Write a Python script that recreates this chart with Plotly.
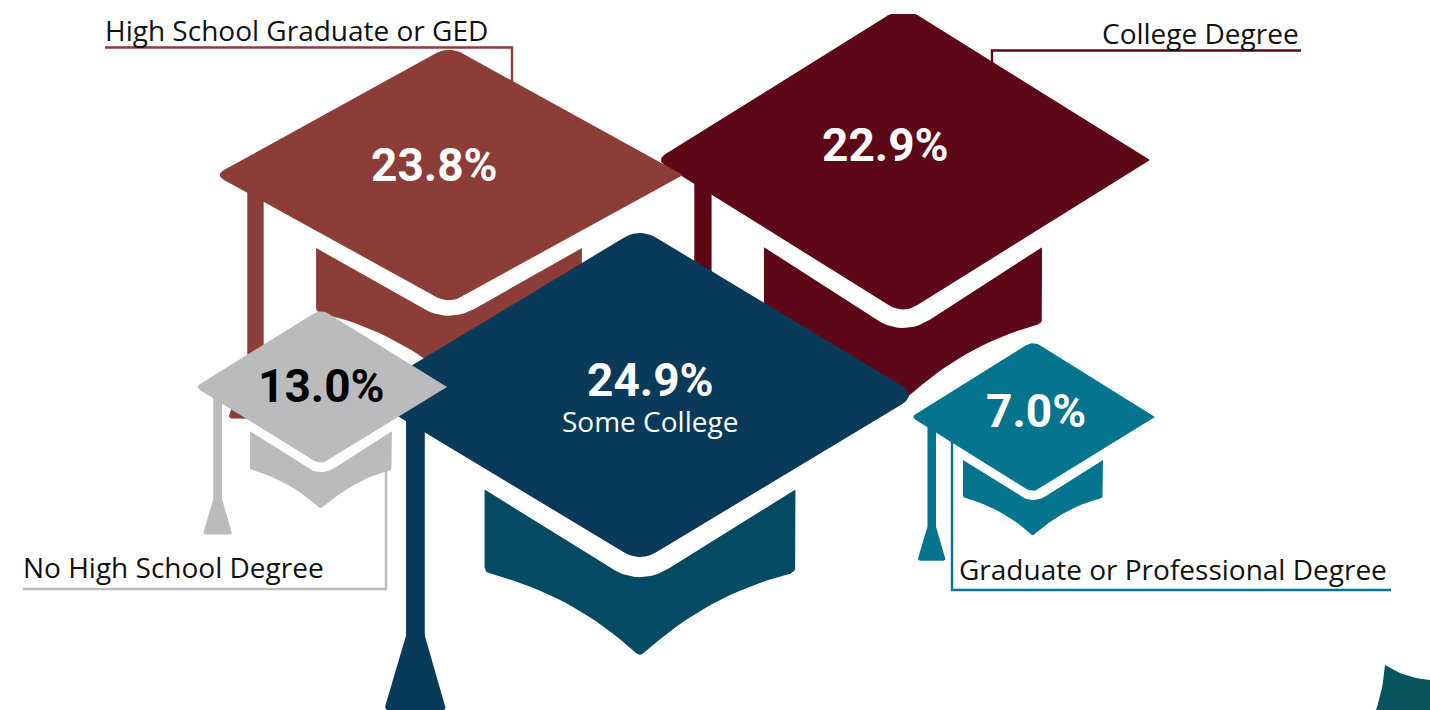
import plotly.graph_objects as go

# ---- data ----
categories = ["College Degree", "High School Graduate or GED", "Some College",
              "No High School Degree", "Graduate or Professional Degree"]
shares = [22.9, 23.8, 24.9, 13.0, 7.0]

# ---- cap layout (pixel space of the infographic) ----
centers_x = [903, 449, 640, 321, 1033]
centers_y = [160, 175, 395, 387, 417]
half_w = [247, 234, 268, 126, 122]
half_h = [154, 129, 167, 78, 76]
top_width = [1.0, 1.0, 1.035, 1.0, 1.0]
band_width = [0.563, 0.568, 0.58, 0.563, 0.574]
tassel_pos = [-0.81, -0.827, -0.838, -0.82, -0.83]
top_colors = ["#5E0717", "#8C3D38", "#0A3A5A", "#BBBBBE", "#04748F"]
band_colors = ["#5E0717", "#8C3D38", "#054A63", "#BBBBBE", "#04748F"]
right_round = [0.0, 0.0, 0.06, 0.0, 0.0]
left_round = [0.04, 0.04, 0.06, 0.04, 0.04]
label_colors = ["#FFFFFF", "#FFFFFF", "#FFFFFF", "#000000", "#FFFFFF"]
value_x = [885, 434, 650, 321, 1036]
value_y = [145, 165, 380, 386, 411]

FONT_NUM = "Roboto, sans-serif"
FONT_TXT = "Open Sans, Noto Sans, sans-serif"
TOP_CLIP = 14


def qbez(p0, c, p1, n=10):
    pts = []
    for i in range(n + 1):
        t = i / n
        pts.append(((1 - t) ** 2 * p0[0] + 2 * (1 - t) * t * c[0] + t ** 2 * p1[0],
                    (1 - t) ** 2 * p0[1] + 2 * (1 - t) * t * c[1] + t ** 2 * p1[1]))
    return pts


def rounded(vertices, fracs):
    out = []
    m = len(vertices)
    for i, v in enumerate(vertices):
        f = fracs[i]
        if f <= 0:
            out.append(v)
            continue
        a, b = vertices[i - 1], vertices[(i + 1) % m]
        s = (v[0] + (a[0] - v[0]) * f, v[1] + (a[1] - v[1]) * f)
        e = (v[0] + (b[0] - v[0]) * f, v[1] + (b[1] - v[1]) * f)
        out.extend(qbez(s, v, e))
    return out


def diamond(k, lr, rr):
    return rounded([(0, -1), (k, 0), (0, 1), (-k, 0)], [0.06, rr, 0.06, lr])


def band(w):
    left_top, right_top = (-w, 0.566), (w, 0.566)
    notch = qbez((-0.11, 1.036), (0, 1.146), (0.11, 1.036))
    rc = qbez((w, 1.03), (w, 1.066), (w - 0.03, 1.075), 5)
    lc = qbez((-w + 0.03, 1.075), (-w, 1.066), (-w, 1.03), 5)
    right_curve = qbez((w - 0.03, 1.075), (0.25, 1.2), (0.015, 1.545), 16)
    left_curve = qbez((-0.015, 1.545), (-0.25, 1.2), (-w + 0.03, 1.075), 16)
    apex = qbez((0.015, 1.545), (0, 1.565), (-0.015, 1.545), 4)
    return [left_top] + notch + [right_top] + rc + right_curve + apex + left_curve + lc


def tassel(x0):
    sw, fw = 0.035, 0.112
    foot = [(x0 - sw, 0.1), (x0 + sw, 0.1), (x0 + sw, 1.44), (x0 + fw, 1.86)]
    foot += qbez((x0 + fw, 1.86), (x0 + fw + 0.004, 1.89), (x0 + fw - 0.02, 1.89), 4)
    foot += qbez((x0 - fw + 0.02, 1.89), (x0 - fw - 0.004, 1.89), (x0 - fw, 1.86), 4)
    foot += [(x0 - sw, 1.44)]
    return foot


def add_poly(fig, pts, cx, cy, hw, hh, color):
    xs = [cx + p[0] * hw for p in pts]
    ys = [max(cy + p[1] * hh, TOP_CLIP) for p in pts]
    fig.add_trace(go.Scatter(x=xs + xs[:1], y=ys + ys[:1], mode="lines", fill="toself",
                             fillcolor=color, line=dict(width=0, color=color),
                             hoverinfo="skip", showlegend=False))


def add_leader(fig, xs, ys, color):
    fig.add_trace(go.Scatter(x=xs, y=ys, mode="lines", line=dict(color=color, width=2.4),
                             hoverinfo="skip", showlegend=False))


fig = go.Figure()

# corner decoration, bottom right
corner = [(1385, 665)] + qbez((1385, 665), (1405, 678), (1430, 680), 10) + [(1430, 710), (1376, 710)] + \
    qbez((1376, 710), (1383, 690), (1385, 665), 8)
fig.add_trace(go.Scatter(x=[p[0] for p in corner], y=[p[1] for p in corner], mode="lines", fill="toself",
                         fillcolor="#08555F", line=dict(width=0), hoverinfo="skip", showlegend=False))

# leaders behind the caps
add_leader(fig, [105, 512, 512], [47.5, 47.5, 90], "#8C3D38")
add_leader(fig, [1301, 992, 992], [50.5, 50.5, 70], "#5E0717")
add_leader(fig, [23, 386, 386], [589, 589, 465], "#BBBBBE")
add_leader(fig, [1391, 952, 952], [590, 590, 440], "#04748F")

# caps, back to front
for i in range(len(shares)):
    cx, cy, hw, hh = centers_x[i], centers_y[i], half_w[i], half_h[i]
    add_poly(fig, tassel(tassel_pos[i]), cx, cy, hw, hh, top_colors[i])
    add_poly(fig, band(band_width[i]), cx, cy, hw, hh, band_colors[i])
    add_poly(fig, diamond(top_width[i], left_round[i], right_round[i]), cx, cy, hw, hh, top_colors[i])

annotations = []
for i, v in enumerate(shares):
    annotations.append(dict(x=value_x[i], y=value_y[i], text=f"<b>{v:.1f}%</b>", showarrow=False,
                            xanchor="center", yanchor="middle", height=38,
                            font=dict(family=FONT_NUM, size=46, color=label_colors[i])))

annotations.append(dict(x=650, y=421, text=categories[2], showarrow=False, xanchor="center", yanchor="middle",
                        height=38, font=dict(family=FONT_TXT, size=28, color="#FFFFFF")))
annotations.append(dict(x=103, y=30, text=categories[1], showarrow=False, xanchor="left", yanchor="middle",
                        font=dict(family=FONT_TXT, size=28, color="#111111")))
annotations.append(dict(x=1301, y=33, text=categories[0], showarrow=False, xanchor="right", yanchor="middle",
                        font=dict(family=FONT_TXT, size=28, color="#111111")))
annotations.append(dict(x=21, y=567, text=categories[3], showarrow=False, xanchor="left", yanchor="middle",
                        font=dict(family=FONT_TXT, size=28, color="#111111")))
annotations.append(dict(x=957, y=569, text=categories[4], showarrow=False, xanchor="left", yanchor="middle",
                        font=dict(family=FONT_TXT, size=28, color="#111111")))

fig.update_layout(width=1430, height=710, autosize=False,
                  margin=dict(l=0, r=0, t=0, b=0, pad=0),
                  paper_bgcolor="#FFFFFF", plot_bgcolor="#FFFFFF",
                  showlegend=False, annotations=annotations,
                  xaxis=dict(range=[0, 1430], visible=False, fixedrange=True),
                  yaxis=dict(range=[710, 0], visible=False, fixedrange=True))

fig.write_html("out.html", config={"displayModeBar": False, "responsive": False},
               post_script="document.body.style.margin='0';document.body.style.overflow='hidden';")
